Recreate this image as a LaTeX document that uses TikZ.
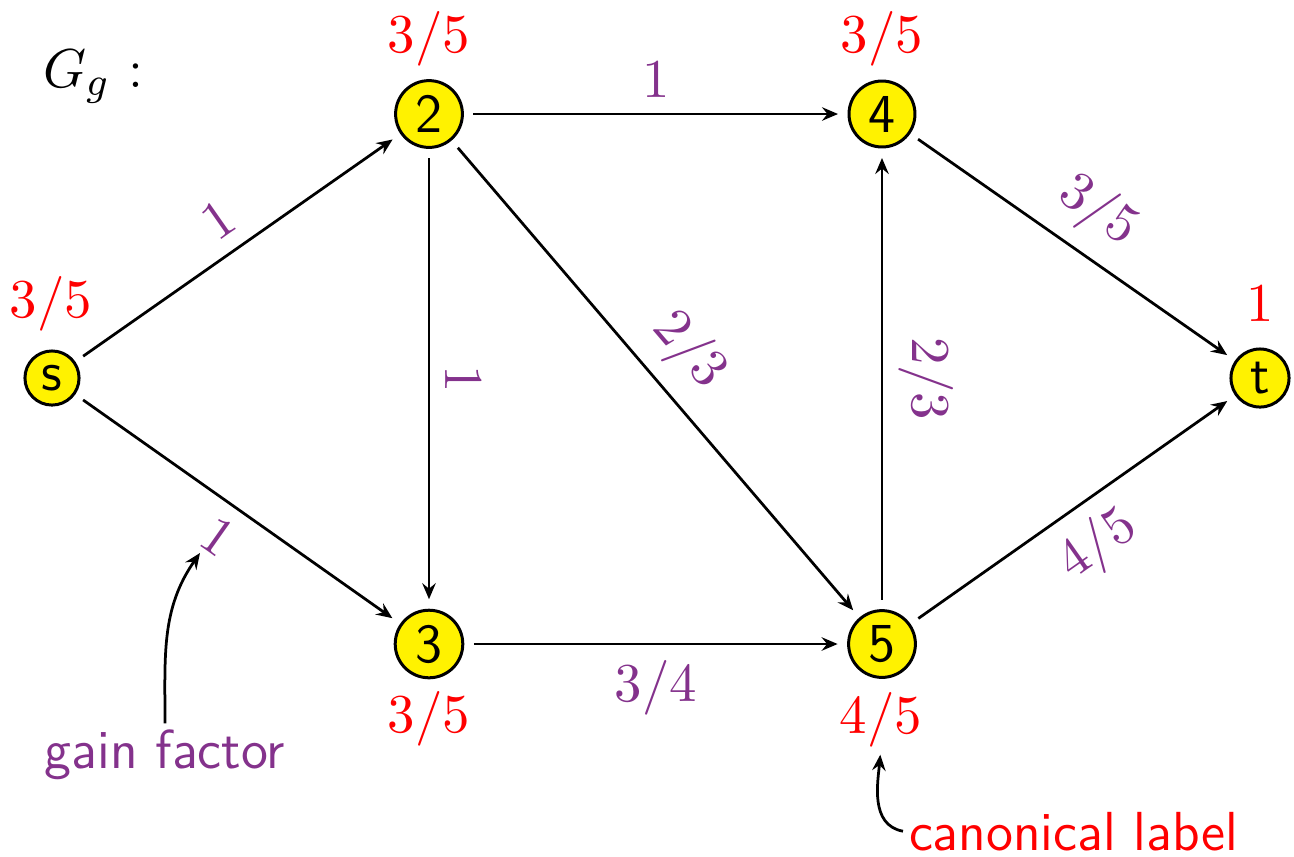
\documentclass[tikz,border=0pt]{standalone}
\usetikzlibrary{arrows.meta,calc}
\definecolor{gainc}{RGB}{132,50,140}
\begin{document}
\begin{tikzpicture}[x=0.2pt,y=-0.2pt, font=\fontsize{11}{13}\selectfont,
  vert/.style={circle, draw, fill=yellow, line width=0.6pt, inner sep=1.5pt, outer sep=2.2pt,
    font=\fontsize{11}{13}\selectfont\sffamily},
  tipstyle/.style={line width=0.55pt},
  fwd/.style={draw, line width=0.55pt, -{Stealth[length=3.2pt,width=2.7pt,inset=1.1pt]}},
  bwd/.style={draw, line width=0.55pt, {Stealth[length=3.2pt,width=2.7pt,inset=1.1pt]}-},
  gl/.style={text=gainc, sloped, inner sep=3pt},
  cl/.style={text=red, anchor=base, inner sep=0pt, outer sep=0pt},
  note/.style={inner sep=1pt, font=\fontsize{11}{13}\selectfont\sffamily},
]
\useasboundingbox (0,0) rectangle (1294,856);

\node[anchor=base west, inner sep=0pt] (G) at (42,87) {$G_g$ :};

\node[vert] (s) at (52,378) {s};
\node[vert] (2) at (429,114) {2};
\node[vert] (4) at (882,114) {4};
\node[vert] (3) at (429,644) {3};
\node[vert] (5) at (882,644) {5};
\node[vert] (t) at (1260,378) {t};

\node[cl] (ls) at (51,317) {$3/5$};
\node[cl] (l2) at (429,52) {$3/5$};
\node[cl] (l4) at (882,52) {$3/5$};
\node[cl] (lt) at (1260,321) {$1$};
\node[cl] (l3) at (429,732) {$3/5$};
\node[cl] (l5) at (881,733) {$4/5$};

\draw[fwd] (s) -- node[gl, above] (g0) {$1$} (2);
\draw[fwd] (s) -- node[gl, below] (g1) {$1$} (3);
\draw[fwd] (2) -- node[gl, above] {$1$} (4);
\draw[fwd] (2) -- node[gl, above] {$1$} (3);
\draw[fwd] (2) -- node[gl, above] {$2/3$} (5);
\draw[fwd] (3) -- node[gl, below] {$3/4$} (5);
\draw[bwd] (4) -- node[gl, above] {$2/3$} (5);
\draw[fwd] (4) -- node[gl, above] {$3/5$} (t);
\draw[fwd] (5) -- node[gl, below] {$4/5$} (t);

\node[note, text=gainc, anchor=base] (gf) at (165,768) {gain factor};
\coordinate (gtip) at (200,553);
\draw[fwd] (gf.north) to[out=90, in=-125] (gtip);

\node[note, text=red, anchor=base west] (cn) at (903,850) {canonical label};
\draw[fwd, shorten >=1.6pt] (cn.west) to[out=170, in=-95] (l5.south);
\end{tikzpicture}
\end{document}
